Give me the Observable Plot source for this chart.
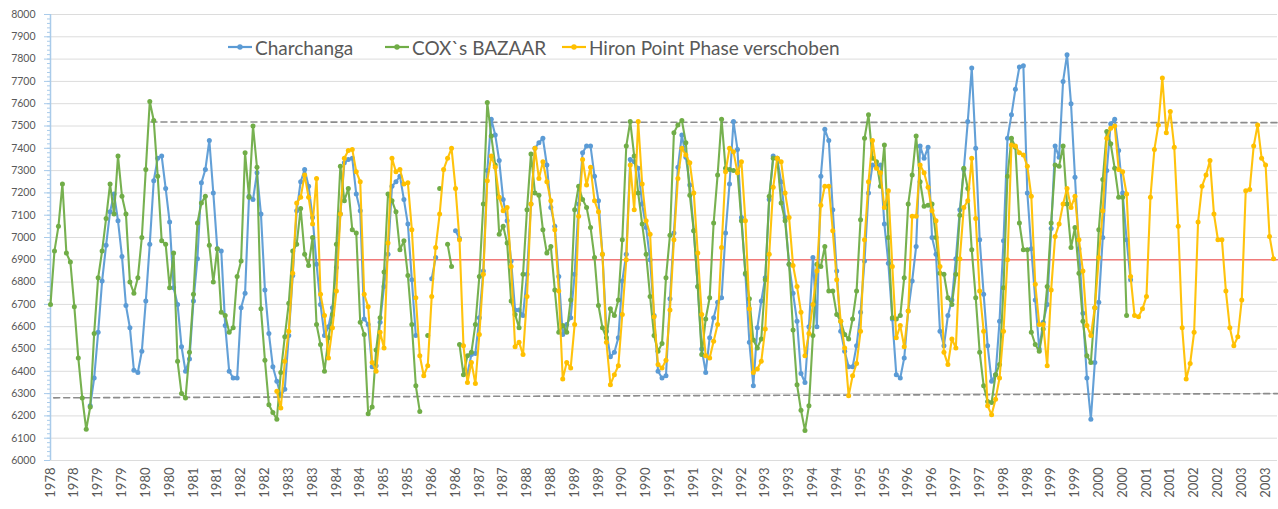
<!DOCTYPE html>
<html><head><meta charset="utf-8">
<script src="https://cdn.jsdelivr.net/npm/d3@7"></script>
<script src="https://cdn.jsdelivr.net/npm/@observablehq/plot@0.6"></script>
<style>
body{margin:0;background:#fff;}
#wrap{position:relative;width:1278px;height:509px;}
.leg{position:absolute;top:36px;height:22px;display:flex;align-items:center;font-family:Lato,'Liberation Sans',sans-serif;font-size:19px;color:#595959;white-space:nowrap;}
.leg span{margin-left:3px}
</style></head><body><div id="wrap"></div>
<script>
// month index 0 = Jan 1978
const xTickLabels = ["1978","1978","1979","1979","1980","1980","1981","1981","1982","1982","1983","1983","1984","1984","1985","1985","1986","1986","1987","1987","1988","1988","1989","1989","1990","1990","1991","1991","1992","1992","1993","1993","1994","1994","1995","1995","1996","1996","1997","1997","1998","1998","1999","1999","2000","2000","2001","2001","2002","2002","2003","2003"];
const seriesNames = ["Charchanga", "COX`s BAZAAR", "Hiron Point Phase verschoben"];
const seriesColors = ["#5B9BD5", "#70AD47", "#FFC000"];

const charchanga = [
null,null,null,null,null,null,null,null,null,null,
6245,6370,6575,6805,6965,7115,7195,7075,6915,6695,
6595,6405,6395,6490,6715,6970,7255,7355,7365,7220,
7070,6775,6700,6510,6400,6455,6715,6905,7245,7305,
7435,7200,6950,6940,6605,6400,6370,6370,6685,6750,
7185,7170,7290,7105,6765,6570,6420,6355,6290,6320,
6560,6830,7120,7250,7305,7230,7090,6880,6700,6560,
6600,6685,6865,7105,7335,7350,7355,7195,7120,6635,
6610,6420,6425,6620,6780,6925,7230,7250,7275,7170,
7060,6810,6560,null,null,null,6815,6910,null,null,
null,null,7030,6995,null,6390,6475,6480,6640,6850,
7300,7530,7460,7345,7170,7075,6895,6675,6675,6650,
6835,7150,7400,7425,7445,7325,7135,7050,6825,6565,
6610,6640,6835,7150,7380,7410,7410,7275,7165,6925,
6580,6465,6485,6550,6805,6925,7350,7340,7310,7150,
7045,6900,6650,6400,6370,6380,6725,7020,7315,7460,
7360,7235,7030,6780,6500,6395,6550,6640,6710,6730,
7020,7240,7520,7395,7090,6835,6530,6335,6595,6715,
6820,7170,7365,7355,7250,7090,6880,6750,6625,6390,
6350,6600,6910,6600,7275,7485,7435,7125,6850,6580,
6490,6420,6420,6515,6665,6895,7200,7325,7315,7325,
7060,6885,6635,6385,6370,6460,6670,6805,6960,7410,
7355,7405,7000,6925,6580,6515,6650,6720,6905,7125,
7305,7520,7760,7400,6990,6745,6515,6355,6385,6625,
6985,7445,7550,7665,7765,7770,7200,6950,6720,6500,
6620,6700,7040,7410,7360,7700,7820,7600,7270,6950,
6660,6370,6185,6440,6710,7000,7300,7510,7530,7390,
7200,6990,6810,null,null,null,null,null,null,null,
null,null,null,null,null,null,null,null,null,null,
null,null,null,null,null,null,null,null,null,null,
null,null,null,null,null,null,null,null,null];

const coxsBazaar = [
6700,6940,7050,7240,6930,6890,6690,6460,6280,6140,
6240,6570,6820,6940,7085,7240,7105,7365,7185,7105,
6800,6750,6820,7000,7305,7610,7525,7275,6985,6970,
6775,6930,6445,6300,6280,6485,6745,7065,7155,7185,
6965,6800,6950,6665,6650,6575,6595,6825,6895,7380,
7180,7500,7315,6680,6450,6250,6215,6185,6395,6555,
6705,6940,6970,7130,6925,6875,7000,6610,6520,6400,
6550,6655,6970,7320,7165,7220,7035,7020,6620,6565,
6210,6240,6495,6640,6845,7195,7165,7115,6945,6985,
6830,6610,6335,6220,null,6560,null,null,7220,null,
6970,6870,null,6520,6385,6470,6485,6610,6825,7150,
7605,7455,7325,7015,7050,6975,6715,6655,6595,6835,
7125,7375,7200,7190,7035,6930,6960,6765,6575,6605,
6575,6720,7125,7230,7170,7135,7045,6910,6695,6595,
6550,6680,6650,6720,6990,7410,7520,7365,7200,7060,
6925,6735,6560,6490,6525,6820,7010,7470,7505,7525,
7425,7190,7030,6780,6475,6635,6730,7065,7280,7530,
7310,7305,7300,7295,7075,6840,6725,6540,6505,6545,
6810,7185,7355,7355,7155,7075,6880,6585,6340,6225,
6135,6245,6560,6880,6870,6960,6760,6760,6655,6625,
6565,6545,6635,6760,7080,7445,7550,7355,7340,7230,
7415,7000,6640,6635,6650,6820,7150,7280,7455,7250,
7140,7145,7150,7000,6840,6835,6730,6700,6835,7100,
7310,7220,6945,6730,6485,6335,6265,6260,6385,6430,
6775,7275,7445,7405,7065,6945,6945,6575,6520,6490,
6590,6780,7065,7325,7320,7410,7150,6955,7045,6840,
6625,6470,6440,6685,7035,7260,7475,7420,7310,7180,
7180,6650,null,null,null,null,null,null,null,null,
null,null,null,null,null,null,null,null,null,null,
null,null,null,null,null,null,null,null,null,null,
null,null,null,null,null,null,null,null,null];

const hironPoint = [
null,null,null,null,null,null,null,null,null,null,
null,null,null,null,null,null,null,null,null,null,
null,null,null,null,null,null,null,null,null,null,
null,null,null,null,null,null,null,null,null,null,
null,null,null,null,null,null,null,null,null,null,
null,null,null,null,null,null,null,6310,6235,6445,
6580,6840,7155,7180,7280,7180,7060,7265,6745,6650,
6460,6595,6760,7105,7355,7390,7395,7295,7250,6745,
6690,6440,6400,6575,6505,6975,7355,7295,7305,7240,
7245,7035,6730,6470,6380,6425,6735,6955,7105,7305,
7355,7400,7220,6990,6515,6350,6440,6345,6565,6835,
7255,7365,7315,7180,7120,7135,6870,6510,6530,6475,
6735,7150,7400,7265,7340,7250,7165,7035,6760,6365,
6440,6415,6610,7095,7350,7235,7315,7165,7115,6925,
6530,6340,6385,6425,6655,6900,7325,7125,7520,7240,
7075,7015,6645,6430,6415,6450,6675,6990,7265,7400,
7370,7335,7200,6930,6655,6470,6460,6535,6610,6955,
7295,7400,7385,7290,7340,7075,6680,6395,6410,6445,
6590,6925,7225,7355,7340,7200,7090,6875,6780,6665,
6470,6570,6700,6850,7145,7230,7230,7030,6810,6625,
6505,6290,6380,6435,6580,6990,7250,7435,7310,7290,
7135,7210,6870,6550,6605,6510,6670,7095,7095,7325,
7290,7225,7120,7075,6870,6485,6430,6545,6505,6905,
7135,7165,7355,7085,6760,6580,6245,6205,6275,6370,
6580,6900,7415,7410,7380,7370,7320,7185,6790,6610,
6610,6425,6765,7005,7060,7150,7220,7135,7185,6990,
6850,6605,6560,6685,6910,7120,7445,7490,7500,7305,
7295,7195,6825,6650,6645,6680,6735,7180,7395,7505,
7715,7470,7565,7405,7050,6595,6365,6435,6575,7070,
7230,7280,7345,7105,6990,6990,6760,6595,6515,6555,
6720,7210,7215,7410,7505,7355,7325,7005,6905];

// reference lines: [startMonth, endMonth], [startValue, endValue]
const upperRefMonths = [25.3, 309], upperRefValues = [7518, 7515];
const lowerRefMonths = [0.8, 309], lowerRefValues = [6281, 6300];
const redRefMonths = [64.2, 309], redRefValues = [6900, 6900];

const xMax = 309;
const xTickMonths = xTickLabels.map((_, i) => i * 6);
const yMajor = d3.range(6000, 8001, 100);
const yMinor = d3.range(6000, 8001, 20);

const toRows = arr => arr.map((v, i) => ({m: i, v}));
const refRows = (ms, vs) => ms.map((m, i) => ({m, v: vs[i]}));
const allSeries = [charchanga, coxsBazaar, hironPoint];

const seriesMarks = [];
allSeries.forEach((arr, k) => {
  const rows = toRows(arr);
  seriesMarks.push(Plot.line(rows, {x: "m", y: "v", stroke: seriesColors[k], strokeWidth: 2.1, strokeOpacity: 0.95}));
  seriesMarks.push(Plot.dot(rows, {x: "m", y: "v", r: 2.5, fill: seriesColors[k], stroke: "none"}));
});

const chart = Plot.plot({
  width: 1278, height: 509,
  marginLeft: 50, marginRight: 1, marginTop: 14, marginBottom: 49,
  x: {domain: [0, xMax]},
  y: {domain: [6000, 8000]},
  style: {fontFamily: "Lato, 'Liberation Sans', sans-serif", background: "#fff", overflow: "visible"},
  marks: [
    Plot.gridY(yMajor, {stroke: "#dcdcdc", strokeOpacity: 1}),
    Plot.line(refRows(upperRefMonths, upperRefValues), {x: "m", y: "v", stroke: "#8c8c8c", strokeWidth: 1.6, strokeDasharray: "6,4"}),
    Plot.line(refRows(lowerRefMonths, lowerRefValues), {x: "m", y: "v", stroke: "#8c8c8c", strokeWidth: 1.6, strokeDasharray: "6,4"}),
    Plot.line(refRows(redRefMonths, redRefValues), {x: "m", y: "v", stroke: "#f07a7a", strokeWidth: 1.4}),
    Plot.ruleX([0], {stroke: "#a9cbea", strokeWidth: 1.5}),
    Plot.axisY({ticks: yMinor, tickSize: 3, tickFormat: () => "", color: "#a9cbea", label: null}),
    Plot.axisY({ticks: yMajor, tickSize: 6, tickFormat: () => "", color: "#a9cbea", label: null}),
    Plot.axisY({ticks: yMajor, tickSize: 0, tickPadding: 15, fontSize: 10.5, color: "#595959", label: null,
      tickFormat: d => String(d)}),
    Plot.axisX({ticks: xTickMonths, tickSize: 0, tickPadding: 7, tickRotate: -90, fontSize: 13, color: "#595959", label: null,
      tickFormat: d => xTickLabels[xTickMonths.indexOf(d)]}),
    ...seriesMarks
  ]
});

const wrap = document.getElementById("wrap");
wrap.appendChild(chart);

const legendLeft = [228, 385, 562];
seriesNames.forEach((name, k) => {
  const div = document.createElement("div");
  div.className = "leg";
  div.style.left = legendLeft[k] + "px";
  div.innerHTML = `<svg width="24" height="10"><line x1="0" y1="5" x2="24" y2="5" stroke="${seriesColors[k]}" stroke-width="2.2"/><circle cx="12" cy="5" r="2.7" fill="${seriesColors[k]}"/></svg><span>${name}</span>`;
  wrap.appendChild(div);
});
</script></body></html>
